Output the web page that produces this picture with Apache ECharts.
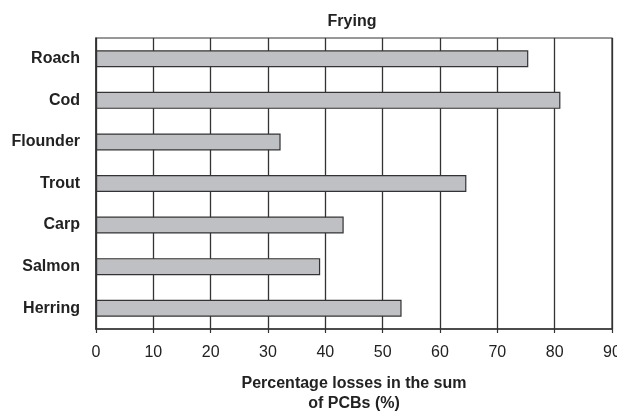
<!DOCTYPE html>
<html>
<head>
<meta charset="utf-8">
<script src="https://cdn.jsdelivr.net/npm/echarts@6/dist/echarts.min.js"></script>
<style>
html,body{margin:0;padding:0;background:#fff;}
#chart{width:617px;height:412px;}
</style>
</head>
<body>
<div id="chart"></div>
<script>
const categories = ['Roach', 'Cod', 'Flounder', 'Trout', 'Carp', 'Salmon', 'Herring'];
const losses = [75.4, 81.0, 32.2, 64.6, 43.2, 39.1, 53.3];
const xTicks = [0, 10, 20, 30, 40, 50, 60, 70, 80, 90];
const titleText = 'Frying';
const xAxisName = 'Percentage losses in the sum\nof PCBs (%)';

const FONT = '"Liberation Sans", Arial, Helvetica, sans-serif';
const chart = echarts.init(document.getElementById('chart'), null, {renderer: 'canvas'});
chart.setOption({
  animation: false,
  backgroundColor: '#fff',
  title: {
    text: titleText,
    left: 352,
    top: 14,
    textAlign: 'center',
    padding: 0,
    textStyle: {fontFamily: FONT, fontWeight: 'bold', fontSize: 16, color: '#222'}
  },
  grid: {
    left: 96, right: 5, top: 38, bottom: 83,
    show: true, borderColor: '#333', borderWidth: 1.2,
    containLabel: false,
    outerBoundsMode: 'none'
  },
  xAxis: {
    type: 'value',
    min: xTicks[0],
    max: xTicks[xTicks.length - 1],
    interval: xTicks[1] - xTicks[0],
    name: xAxisName,
    nameLocation: 'middle',
    nameGap: 45,
    nameTextStyle: {fontFamily: FONT, fontWeight: 'bold', fontSize: 16, color: '#222', lineHeight: 20, verticalAlign: 'top'},
    axisLine: {show: true, lineStyle: {color: '#333', width: 1.5}},
    axisTick: {show: true, length: 4, lineStyle: {color: '#333', width: 1.2}},
    axisLabel: {margin: 16, fontFamily: FONT, fontSize: 16, color: '#222'},
    splitLine: {show: true, lineStyle: {color: '#333', width: 1.3}}
  },
  yAxis: {
    type: 'category',
    data: categories,
    inverse: true,
    axisLine: {show: true, lineStyle: {color: '#333', width: 1.5}},
    axisTick: {show: false},
    axisLabel: {margin: 16, fontFamily: FONT, fontWeight: 'bold', fontSize: 16, color: '#222'},
    splitLine: {show: false}
  },
  series: [{
    type: 'bar',
    data: losses,
    barWidth: 17,
    itemStyle: {color: '#bfc0c4', borderColor: '#333', borderWidth: 1.2},
    z: 3
  }]
});
</script>
</body>
</html>
